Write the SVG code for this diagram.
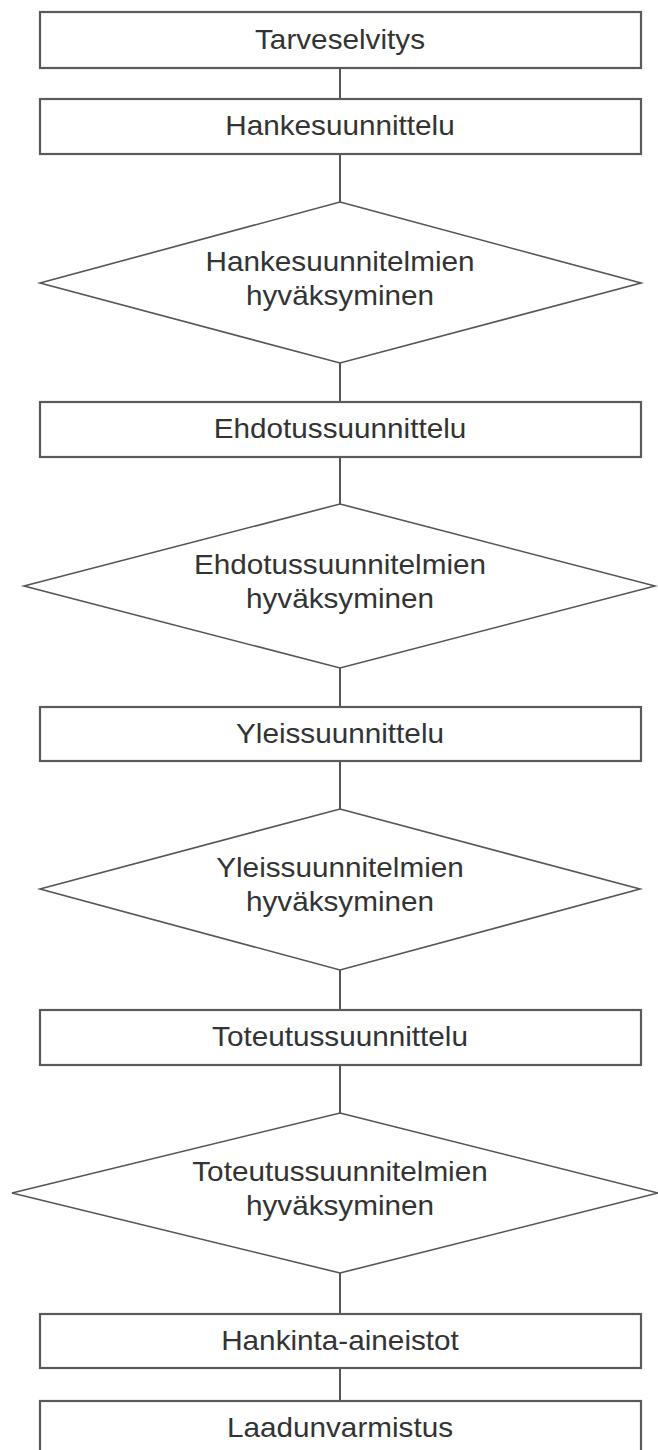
<svg xmlns="http://www.w3.org/2000/svg" width="658" height="1450" viewBox="0 0 658 1450">
<style>
.box{fill:#fff;stroke:#5a5a5a;stroke-width:2.2}
.dia{fill:#fff;stroke:#555;stroke-width:1.6}
.lbl{font-family:"Liberation Sans",Arial,sans-serif;font-size:27px;fill:#333;text-anchor:middle}
.conn{stroke:#555;stroke-width:2;fill:none}
</style>
<rect width="658" height="1450" fill="#fff"/>
<g id="connectors">
<line class="conn" x1="340" y1="68" x2="340" y2="99"/>
<line class="conn" x1="340" y1="154" x2="340" y2="202"/>
<line class="conn" x1="340" y1="363" x2="340" y2="402"/>
<line class="conn" x1="340" y1="457" x2="340" y2="504"/>
<line class="conn" x1="340" y1="668" x2="340" y2="707"/>
<line class="conn" x1="340" y1="761" x2="340" y2="809"/>
<line class="conn" x1="340" y1="970" x2="340" y2="1010"/>
<line class="conn" x1="340" y1="1065" x2="340" y2="1113"/>
<line class="conn" x1="340" y1="1273" x2="340" y2="1314"/>
<line class="conn" x1="340" y1="1368" x2="340" y2="1401"/>
</g>
<g id="n1"><rect class="box" x="40" y="12" width="601" height="56"/><text class="lbl" transform="translate(340,49) scale(1.1,1)">Tarveselvitys</text></g>
<g id="n2"><rect class="box" x="40" y="99" width="601" height="55"/><text class="lbl" transform="translate(340,135) scale(1.1,1)">Hankesuunnittelu</text></g>
<g id="n3"><polygon class="dia" points="340,202 641,283 340,363 40,283"/><text class="lbl" transform="translate(340,271) scale(1.1,1)">Hankesuunnitelmien</text><text class="lbl" transform="translate(340,305) scale(1.1,1)">hyväksyminen</text></g>
<g id="n4"><rect class="box" x="40" y="402" width="601" height="55"/><text class="lbl" transform="translate(340,438) scale(1.1,1)">Ehdotussuunnittelu</text></g>
<g id="n5"><polygon class="dia" points="340,504 655,586 340,668 24,586"/><text class="lbl" transform="translate(340,574) scale(1.1,1)">Ehdotussuunnitelmien</text><text class="lbl" transform="translate(340,608) scale(1.1,1)">hyväksyminen</text></g>
<g id="n6"><rect class="box" x="40" y="707" width="601" height="54"/><text class="lbl" transform="translate(340,743) scale(1.1,1)">Yleissuunnittelu</text></g>
<g id="n7"><polygon class="dia" points="340,809 640,889 340,970 40,889"/><text class="lbl" transform="translate(340,877) scale(1.1,1)">Yleissuunnitelmien</text><text class="lbl" transform="translate(340,911) scale(1.1,1)">hyväksyminen</text></g>
<g id="n8"><rect class="box" x="40" y="1010" width="601" height="55"/><text class="lbl" transform="translate(340,1046) scale(1.1,1)">Toteutussuunnittelu</text></g>
<g id="n9"><polygon class="dia" points="340,1113 658,1193 340,1273 12,1193"/><text class="lbl" transform="translate(340,1181) scale(1.1,1)">Toteutussuunnitelmien</text><text class="lbl" transform="translate(340,1215) scale(1.1,1)">hyväksyminen</text></g>
<g id="n10"><rect class="box" x="40" y="1314" width="601" height="54"/><text class="lbl" transform="translate(340,1350) scale(1.1,1)">Hankinta-aineistot</text></g>
<g id="n11"><rect class="box" x="40" y="1401" width="601" height="60"/><text class="lbl" transform="translate(340,1437) scale(1.1,1)">Laadunvarmistus</text></g>
</svg>
